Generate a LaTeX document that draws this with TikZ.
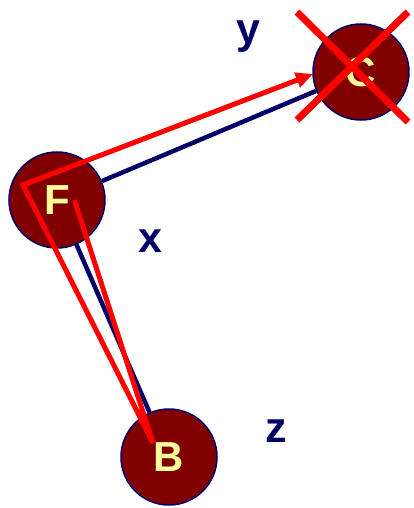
\documentclass[tikz,border=0pt]{standalone}
\usepackage{fontspec}
\setmainfont{Liberation Sans}
\usetikzlibrary{arrows.meta}
\definecolor{maroonball}{HTML}{800000}
\definecolor{navyline}{HTML}{000066}
\definecolor{paleyellow}{HTML}{FFFF99}

\begin{document}
\begin{tikzpicture}[x=1pt, y=-1pt,
    ball/.style={circle, draw=navyline, line width=1.5pt, fill=maroonball,
                 minimum size=96pt, inner sep=0pt,
                 text=paleyellow, font=\fontsize{42}{42}\selectfont\bfseries},
    edgelab/.style={text=navyline, font=\fontsize{43}{43}\selectfont\bfseries},
    treeline/.style={draw=navyline, line width=4.5pt},
    redpath/.style={draw=red, line width=5pt, line cap=round, line join=miter},
    crossout/.style={draw=red, line width=7pt}]

  \useasboundingbox (0,0) rectangle (414,508);

  % ---- the three balls
  \node[ball] (F) at (57,200) {F};
  \node[ball] (C) at (361,72) {C};
  \node[ball] (B) at (169,457) {B};

  % ---- the two edges of the tree
  \draw[treeline] (F) -- (C);
  \draw[treeline] (F) -- (B);

  % ---- edge names
  \node[edgelab] (ylab) at (248,37) {y};
  \node[edgelab] (xlab) at (150,241) {x};
  \node[edgelab] (zlab) at (276,431) {z};

  % ---- the red walk: from F down to B, back up, over to C
  \coordinate (start) at (75,202);
  \coordinate (turnB) at (153,443);
  \coordinate (turnF) at (23,185);
  \coordinate (tipC) at (313,74);
  \draw[redpath, -{Triangle[length=17pt, width=15pt]}]
    (start) -- (turnB) -- (turnF) -- (tipC);

  % ---- C is crossed out
  \coordinate (xa) at (297,12);
  \coordinate (xb) at (408,122);
  \coordinate (xc) at (408,12);
  \coordinate (xd) at (297,120);
  \draw[crossout] (xa) -- (xb);
  \draw[crossout] (xc) -- (xd);
\end{tikzpicture}
\end{document}
